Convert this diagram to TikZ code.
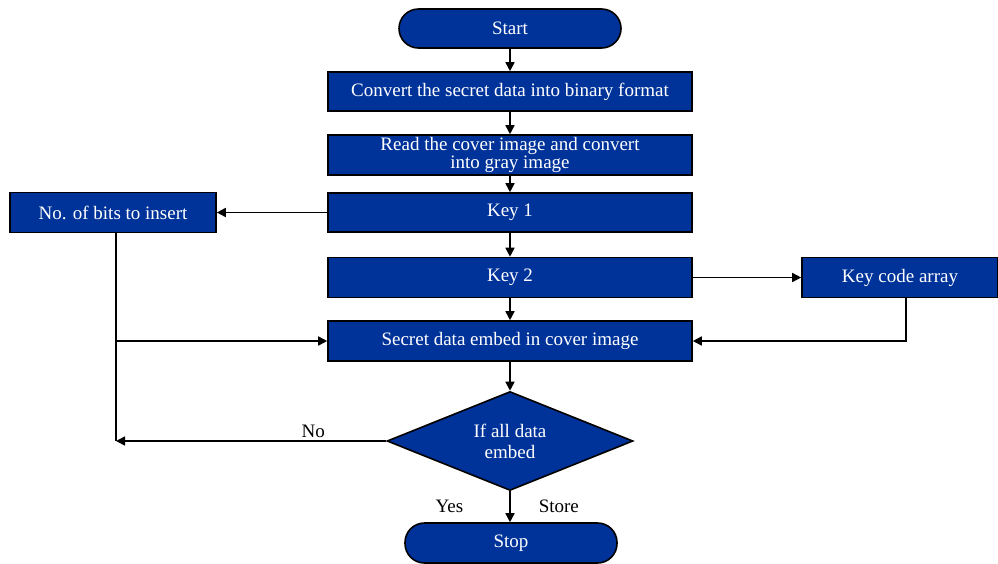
\documentclass[tikz,border=0pt]{standalone}
\usepackage{fontspec}
\setmainfont{Liberation Serif}
\usetikzlibrary{arrows.meta,shapes.geometric}
\definecolor{flowblue}{RGB}{0,51,153}
\begin{document}
\begin{tikzpicture}[x=1pt,y=-1pt,
  every node/.style={inner sep=0pt},
  stepbox/.style={draw=black,line width=1.6pt,fill=flowblue,text=white,
    font=\fontsize{19}{18}\selectfont,align=center,
    minimum width=364pt,minimum height=39pt},
  sidebox/.style={stepbox,minimum width=206pt,minimum height=40pt},
  terminal/.style={stepbox,rounded corners=19.5pt,minimum height=39pt},
  decision/.style={draw=black,line width=1.6pt,fill=flowblue,text=white,
    shape=diamond,aspect=2.5,font=\fontsize{19}{21}\selectfont,align=center,
    minimum width=246pt,minimum height=99pt},
  flow/.style={line width=1.6pt,-{Triangle[length=9pt,width=9pt]}},
  plain/.style={line width=1.6pt},
  lbl/.style={font=\fontsize{19}{21}\selectfont,text=black}]
\useasboundingbox (0,0) rectangle (998,563);

% main column
\node[terminal,minimum width=222pt] (start) at (510,28.5) {Start};
\node[stepbox] (conv) at (510,91.5) {Convert the secret data into binary format};
\node[stepbox,minimum height=40pt] (read) at (510,155) {Read the cover image and convert\\into gray image};
\node[stepbox] (key1) at (510,212.5) {Key 1};
\node[stepbox,minimum height=40pt] (key2) at (510,277.5) {Key 2};
\node[stepbox,minimum height=40pt] (embed) at (510,341) {Secret data embed in cover image};
\node[decision] (check) at (510,441) {If all data\\embed};
\node[terminal,minimum width=212pt,minimum height=40pt] (stop) at (511,543) {Stop};

% side boxes
\node[sidebox] (bits) at (113,212.5) {No. of bits to insert};
\node[sidebox,minimum width=196pt] (kca) at (900,277.5) {Key code array};

% junctions on the left feedback line
\coordinate (jtop) at (116,341);
\coordinate (jbot) at (116,441);

% vertical flow
\draw[flow] (start) -- (conv);
\draw[flow] (conv) -- (read);
\draw[flow] (read) -- (key1);
\draw[flow] (key1) -- (key2);
\draw[flow] (key2) -- (embed);
\draw[flow] (embed) -- (check);
\draw[flow] (check.south) -- (check.south |- stop.north)
  node[lbl,pos=0.5,left=46pt] {Yes}
  node[lbl,pos=0.5,right=28pt] {Store};

% side connections
\draw[flow] (key1.west) -- (bits.east);
\draw[flow] (key2.east) -- (kca.west);
\draw[flow] ([xshift=6pt]kca.south) |- (embed.east);
\draw[plain] (bits.south -| jtop) -- (jbot);
\draw[flow] (jtop) -- (embed.west);
\draw[flow] (check.west) -- (jbot) node[lbl,pos=0.27,above=3pt] {No};
\end{tikzpicture}
\end{document}
